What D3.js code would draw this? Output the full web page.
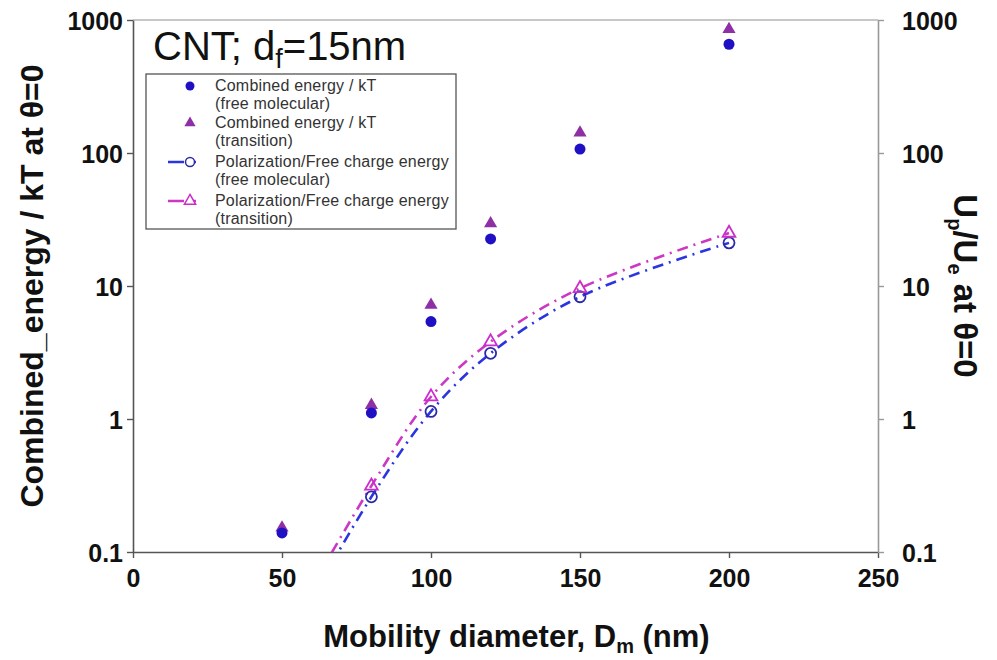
<!DOCTYPE html>
<html>
<head>
<meta charset="utf-8">
<script src="https://cdn.jsdelivr.net/npm/d3@7"></script>
<style>
  body { margin: 0; background: #fff; }
  svg { font-family: "Liberation Sans", Arial, sans-serif; }
</style>
</head>
<body>
<svg width="997" height="660"></svg>
<script>
// mobility diameter (nm)
var diameters = [50, 80, 100, 120, 150, 200];
// combined energy / kT
var combinedFreeMol = [0.139, 1.11, 5.4, 22.6, 107, 657];
var combinedTransition = [0.152, 1.27, 7.2, 29.5, 142, 852];
// Up/Ue (right axis); the 50 nm values sit under the axis floor
var polarFreeMol = [0.018, 0.26, 1.14, 3.12, 8.3, 21.1];
var polarTransition = [0.022, 0.314, 1.47, 3.81, 9.6, 25];

var xTicks = [0, 50, 100, 150, 200, 250];
var yTicks = [0.1, 1, 10, 100, 1000];

var svg = d3.select("svg"),
    pLeft = 133, pRight = 878, pTop = 20, pBottom = 552;

var x = d3.scaleLinear().domain([0, 250]).range([pLeft, pRight]);
var y = d3.scaleLog().domain([0.1, 1000]).range([pBottom, pTop]);
var y2 = d3.scaleLog().domain([0.1, 1000]).range([pBottom, pTop]);

function pts(vals) {
  return diameters.map(function(d, i) { return {x: d, y: vals[i]}; });
}

svg.append("clipPath").attr("id", "plot")
  .append("rect").attr("x", pLeft).attr("y", pTop)
  .attr("width", pRight - pLeft).attr("height", pBottom - pTop);

// frame
svg.append("line").attr("x1", pLeft).attr("x2", pRight).attr("y1", pTop).attr("y2", pTop)
  .attr("stroke", "#b4b4b4").attr("stroke-width", 1.5);

// axes
var fmt = function(d) { return d < 1 ? "0.1" : d3.format("d")(d); };

var gx = svg.append("g").attr("transform", "translate(0," + pBottom + ")")
  .call(d3.axisBottom(x).tickValues(xTicks).tickSize(6).tickPadding(11).tickSizeOuter(0));
var gl = svg.append("g").attr("transform", "translate(" + pLeft + ",0)")
  .call(d3.axisLeft(y).tickValues(yTicks).tickFormat(fmt).tickSize(6).tickPadding(4).tickSizeOuter(0));
var gr = svg.append("g").attr("transform", "translate(" + pRight + ",0)")
  .call(d3.axisRight(y2).tickValues(yTicks).tickFormat(fmt).tickSize(6).tickPadding(18).tickSizeOuter(0));

[gx, gl, gr].forEach(function(g) {
  g.selectAll(".domain").attr("stroke", "#555").attr("stroke-width", 1.6);
  g.selectAll(".tick line").attr("stroke", "#555").attr("stroke-width", 1.4);
  g.selectAll("text").attr("font-size", 25).attr("font-weight", "bold")
    .attr("fill", "#111").attr("font-family", "Liberation Sans, Arial, sans-serif");
});
gr.selectAll(".domain").attr("stroke", "#999");
gr.selectAll(".tick line").attr("stroke", "#999");
gl.selectAll("text").attr("dy", "0.36em");
gr.selectAll("text").attr("dy", "0.36em");

// axis titles
var xt = svg.append("text").attr("x", (pLeft + pRight) / 2 + 11).attr("y", 647)
  .attr("text-anchor", "middle").attr("font-size", 31).attr("font-weight", "bold").attr("fill", "#111");
xt.append("tspan").text("Mobility diameter, D");
xt.append("tspan").attr("font-size", 20).attr("dy", 6).text("m");
xt.append("tspan").attr("dy", -6).text(" (nm)");

svg.append("text")
  .attr("transform", "translate(43," + (pTop + pBottom) / 2 + ") rotate(-90)")
  .attr("text-anchor", "middle").attr("font-size", 32).attr("font-weight", "bold").attr("fill", "#111")
  .text("Combined_energy / kT at \u03b8=0");

var rt = svg.append("text")
  .attr("transform", "translate(954," + (pTop + pBottom) / 2 + ") rotate(90)")
  .attr("text-anchor", "middle").attr("font-size", 33).attr("font-weight", "bold").attr("fill", "#111");
rt.append("tspan").text("U");
rt.append("tspan").attr("font-size", 20).attr("dy", 6).text("p");
rt.append("tspan").attr("dy", -6).text("/U");
rt.append("tspan").attr("font-size", 20).attr("dy", 6).text("e");
rt.append("tspan").attr("dy", -6).text(" at \u03b8=0");

// title
var tt = svg.append("text").attr("x", 153).attr("y", 60).attr("font-size", 40).attr("fill", "#111");
tt.append("tspan").text("CNT; d");
tt.append("tspan").attr("font-size", 27).attr("dy", 8).text("f");
tt.append("tspan").attr("dy", -8).text("=15nm");

// plot layer
var plot = svg.append("g").attr("clip-path", "url(#plot)");

var line = d3.line()
  .x(function(d) { return x(d.x); })
  .y(function(d) { return y2(d.y); })
  .curve(d3.curveCatmullRom.alpha(0.5));

var blue = "#2a35e0", magenta = "#cc38c4";

plot.append("path").datum(pts(polarFreeMol)).attr("d", line)
  .attr("fill", "none").attr("stroke", blue).attr("stroke-width", 2.6)
  .attr("stroke-dasharray", "11,6,2,6");
plot.append("path").datum(pts(polarTransition)).attr("d", line)
  .attr("fill", "none").attr("stroke", magenta).attr("stroke-width", 2.6)
  .attr("stroke-dasharray", "11,6,2,6");

var tri = d3.symbol().type(d3.symbolTriangle);

plot.selectAll(".oc").data(pts(polarFreeMol)).enter().append("circle")
  .attr("cx", function(d) { return x(d.x); }).attr("cy", function(d) { return y2(d.y); })
  .attr("r", 5.5).attr("fill", "none").attr("stroke", "#2b2ba8").attr("stroke-width", 1.8);
plot.selectAll(".ot").data(pts(polarTransition)).enter().append("path")
  .attr("d", tri.size(70))
  .attr("transform", function(d) { return "translate(" + x(d.x) + "," + y2(d.y) + ")"; })
  .attr("fill", "none").attr("stroke", "#cc2ccc").attr("stroke-width", 1.8);

plot.selectAll(".ft").data(pts(combinedTransition)).enter().append("path")
  .attr("d", tri.size(75))
  .attr("transform", function(d) { return "translate(" + x(d.x) + "," + y(d.y) + ")"; })
  .attr("fill", "#8e2fa6");
plot.selectAll(".fc").data(pts(combinedFreeMol)).enter().append("circle")
  .attr("cx", function(d) { return x(d.x); }).attr("cy", function(d) { return y(d.y); })
  .attr("r", 5.5).attr("fill", "#2010c4");

// legend
var lg = svg.append("g");
lg.append("rect").attr("x", 146).attr("y", 74).attr("width", 310).attr("height", 155)
  .attr("fill", "#fff").attr("stroke", "#555").attr("stroke-width", 1.3);

var legendRows = [
  {a: "Combined energy / kT", b: "(free molecular)", y: 86, kind: "fc"},
  {a: "Combined energy / kT", b: "(transition)", y: 123, kind: "ft"},
  {a: "Polarization/Free charge energy", b: "(free molecular)", y: 162, kind: "oc"},
  {a: "Polarization/Free charge energy", b: "(transition)", y: 201, kind: "ot"}
];

legendRows.forEach(function(r) {
  var g = lg.append("g");
  if (r.kind == "oc" || r.kind == "ot") {
    g.append("line").attr("x1", 168).attr("x2", 208).attr("y1", r.y).attr("y2", r.y)
      .attr("stroke", r.kind == "oc" ? blue : magenta).attr("stroke-width", 2.4)
      .attr("stroke-dasharray", "16,6,6,20");
  }
  if (r.kind == "fc") g.append("circle").attr("cx", 190).attr("cy", r.y).attr("r", 4.5).attr("fill", "#2010c4");
  if (r.kind == "ft") g.append("path").attr("d", tri.size(55)).attr("transform", "translate(190," + r.y + ")").attr("fill", "#8e2fa6");
  if (r.kind == "oc") g.append("circle").attr("cx", 190).attr("cy", r.y).attr("r", 4.5).attr("fill", "#fff").attr("stroke", "#2b2ba8").attr("stroke-width", 1.5);
  if (r.kind == "ot") g.append("path").attr("d", tri.size(55)).attr("transform", "translate(190," + r.y + ")").attr("fill", "#fff").attr("stroke", "#cc2ccc").attr("stroke-width", 1.5);
  g.append("text").attr("x", 215).attr("y", r.y + 5).attr("font-size", 16).attr("letter-spacing", 0.2).attr("fill", "#333").text(r.a);
  g.append("text").attr("x", 215).attr("y", r.y + 23).attr("font-size", 16).attr("letter-spacing", 0.2).attr("fill", "#333").text(r.b);
});
</script>
</body>
</html>
